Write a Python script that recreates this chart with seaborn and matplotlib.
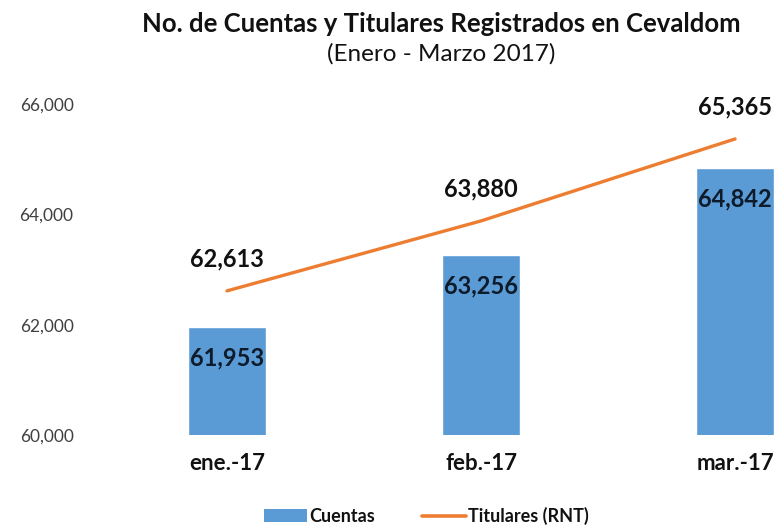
import matplotlib
matplotlib.use("Agg")
import matplotlib.pyplot as plt
import seaborn as sns
import numpy as np
import pandas as pd
from matplotlib.patches import Patch
from matplotlib.lines import Line2D

months = ["ene.-17", "feb.-17", "mar.-17"]
cuentas = [61953, 63256, 64842]
titulares = [62613, 63880, 65365]
yticks = [60000, 62000, 64000, 66000]

title = "No. de Cuentas y Titulares Registrados en Cevaldom"
subtitle = "(Enero - Marzo 2017)"

BLUE = "#5B9BD5"
ORANGE = "#ED7D31"
LABEL = "#0d1b2a"

sns.set_theme(style="white")
plt.rcParams["font.family"] = ["Lato", "DejaVu Sans"]

df = pd.DataFrame({"mes": months, "cuentas": cuentas, "titulares": titulares})

fig = plt.figure(figsize=(7.78, 5.30), dpi=100)
ax = fig.add_axes([0.1285, 0.179, 0.8715, 0.625])

sns.barplot(data=df, x="mes", y="cuentas", color=BLUE, width=0.31,
            saturation=1, ax=ax)
xpos = np.arange(len(months))
sns.lineplot(x=xpos, y=df["titulares"], color=ORANGE, linewidth=2.4, ax=ax)

ax.set_ylim(60000, 66000)
ax.set_xlim(-0.5, 2.169)
ax.set_yticks(yticks)
ax.set_yticklabels([f"{v:,}" for v in yticks], fontsize=12.5, color="#404040")
ax.set_xticks(xpos)
ax.set_xticklabels(months, fontsize=16, fontweight="bold", color="#111111")
ax.tick_params(axis="y", pad=19, length=0)
ax.tick_params(axis="x", pad=13, length=0)
ax.set_xlabel("")
ax.set_ylabel("")
for s in ax.spines.values():
    s.set_visible(False)

for i, v in enumerate(cuentas):
    ax.annotate(f"{v:,}", (i, v), xytext=(0, -31), textcoords="offset pixels",
                ha="center", va="center", fontsize=17, fontweight="bold",
                color=LABEL)
for i, v in enumerate(titulares):
    ax.annotate(f"{v:,}", (i, v), xytext=(0, 32), textcoords="offset pixels",
                ha="center", va="center", fontsize=17, fontweight="bold",
                color="#111111")

fig.text(0.567, 0.955, title, ha="center", va="center", fontsize=18.5,
         fontweight="bold", color="#111111")
fig.text(0.567, 0.898, subtitle, ha="center", va="center", fontsize=17.5,
         color="#111111")

handles = [Patch(facecolor=BLUE, edgecolor="none"),
           Line2D([0], [0], color=ORANGE, linewidth=2.6)]
leg = fig.legend(handles, ["Cuentas", "Titulares (RNT)"], loc="center",
                 bbox_to_anchor=(0.548, 0.026), ncol=2, frameon=False,
                 prop={"size": 13, "weight": "bold"}, handlelength=2.4,
                 handleheight=0.72, handletextpad=0.15, columnspacing=2.6)
for t in leg.get_texts():
    t.set_fontweight("bold")
    t.set_color("#111111")

fig.savefig("out.png", dpi=100)
